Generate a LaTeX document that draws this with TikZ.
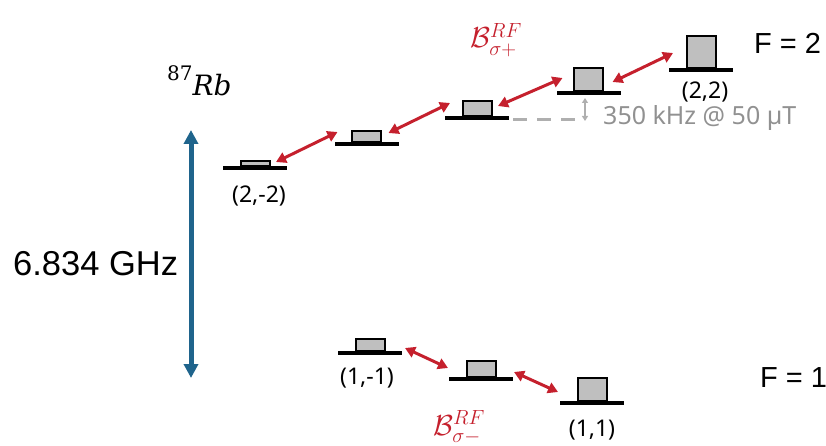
\RequirePackage{fix-cm}
\documentclass[tikz,border=0pt]{standalone}
\usepackage{fontspec}
\setmainfont{Liberation Sans}
\newfontfamily\lblfont{Noto Sans}
\newfontfamily\rbfont{DejaVu Serif}
\usetikzlibrary{arrows.meta,calc}
\definecolor{rfred}{RGB}{197,32,45}
\definecolor{gapblue}{RGB}{31,100,140}
\definecolor{popgray}{RGB}{191,191,191}
\definecolor{dashgray}{RGB}{175,175,175}
\definecolor{txtgray}{RGB}{145,145,145}
\newcommand{\scr}[1]{\mbox{\fontsize{20.5}{24}\selectfont$#1$}}
\begin{document}
\begin{tikzpicture}[x=1pt,y=-1pt,
  lvl/.style={fill=black,minimum width=64pt,minimum height=3.5pt,inner sep=0pt,outer sep=0pt},
  pop/.style={draw=black,line width=2pt,fill=popgray,minimum width=29pt,inner sep=0pt,outer sep=0pt,anchor=south},
  rf/.style={draw=rfred,line width=3pt,{Triangle[length=10pt,width=11pt,fill=rfred]}-{Triangle[length=10pt,width=11pt,fill=rfred]}},
  statelbl/.style={font=\lblfont\fontsize{23}{27}\selectfont,inner sep=0pt,anchor=base},
  bigtxt/.style={font=\fontsize{29}{34}\selectfont,inner sep=0pt,anchor=base west},
  rflbl/.style={text=rfred,inner sep=0pt,anchor=base west,font=\fontsize{29}{33}\selectfont},
]
\useasboundingbox (0,0) rectangle (826,446);
\clip (0,0) rectangle (826,446);

% F = 2 levels
\node[lvl] (l1) at (255,168) {};
\node[lvl] (l2) at (366.5,144) {};
\node[lvl] (l3) at (477,118) {};
\node[lvl] (l4) at (588.5,93) {};
\node[lvl] (l5) at (701,70) {};
\node[pop,minimum height=5pt] (b1) at (l1.north) {};
\node[pop,minimum height=11pt] (b2) at (l2.north) {};
\node[pop,minimum height=15pt] (b3) at (l3.north) {};
\node[pop,minimum height=23pt] (b4) at (l4.north) {};
\node[pop,minimum height=32pt] (b5) at (l5.north) {};

% F = 1 levels
\node[lvl] (la) at (370,353) {};
\node[lvl] (lb) at (481,379) {};
\node[lvl] (lc) at (592,403) {};
\node[pop,minimum height=12pt] (ba) at (la.north) {};
\node[pop,minimum height=16pt] (bb) at (lb.north) {};
\node[pop,minimum height=23pt] (bc) at (lc.north) {};

% RF transitions
\draw[rf] ($(l1.east)+(-11,-6)$) -- ($(l2.west)+(3,-12)$);
\draw[rf] ($(l2.east)+(-10,-11)$) -- ($(l3.west)+(5,-15)$);
\draw[rf] ($(l3.east)+(-11,-12)$) -- ($(l4.west)+(6,-15)$);
\draw[rf] ($(l4.east)+(-8,-11)$) -- ($(l5.west)+(4,-17)$);
\draw[rf] ($(la.east)+(3,-5)$) -- ($(lb.west)+(-1,-11)$);
\draw[rf] ($(lb.east)+(1,-7)$) -- ($(lc.west)+(-2,-11)$);

% hyperfine gap arrow
\coordinate (gtop) at (191,130);
\coordinate (gbot) at (191,378);
\draw[gapblue,line width=5pt,{Triangle[length=14pt,width=14pt]}-{Triangle[length=14pt,width=14pt]}] (gtop) -- (gbot);

% Zeeman splitting indicator
\coordinate (dend) at (578,120);
\draw[dashgray,line width=3pt,dash pattern=on 14pt off 10pt] ($(l3.east)+(4,2)$) -- (dend);
\coordinate (ztop) at (585,98);
\coordinate (zbot) at (585,121);
\draw[dashgray,line width=1.5pt,{Triangle[length=5pt,width=6pt]}-{Triangle[length=5pt,width=6pt]}] (ztop) -- (zbot);
\node[anchor=base west,inner sep=0pt,text=txtgray,font=\lblfont\fontsize{25}{30}\selectfont] (split) at (603,125) {350 kHz @ 50 µT};

% state labels
\node[statelbl] (s1) at (259,203) {(2,-2)};
\node[statelbl] (s5) at (705,99) {(2,2)};
\node[statelbl] (sa) at (367,384) {(1,-1)};
\node[statelbl] (sc) at (592,436) {(1,1)};

% texts
\node[bigtxt] (f2) at (754,54) {F = 2};
\node[bigtxt] (f1) at (760,387) {F = 1};
\node[bigtxt,font=\fontsize{34.5}{40}\selectfont] (ghz) at (13,275) {6.834 GHz};
\node[inner sep=0pt,anchor=base west,font=\rbfont\fontsize{28}{32}\selectfont] (rb) at (167,96) {\raisebox{15pt}{\fontsize{20}{22}\selectfont 87}\itshape Rb};
\node[rflbl] (rfp) at (470,48) {$\mathcal{B}^{\scr{RF}}_{\scr{\sigma+}}$};
\node[rflbl] (rfm) at (433,435) {$\mathcal{B}^{\scr{RF}}_{\scr{\sigma-}}$};
\end{tikzpicture}
\end{document}
